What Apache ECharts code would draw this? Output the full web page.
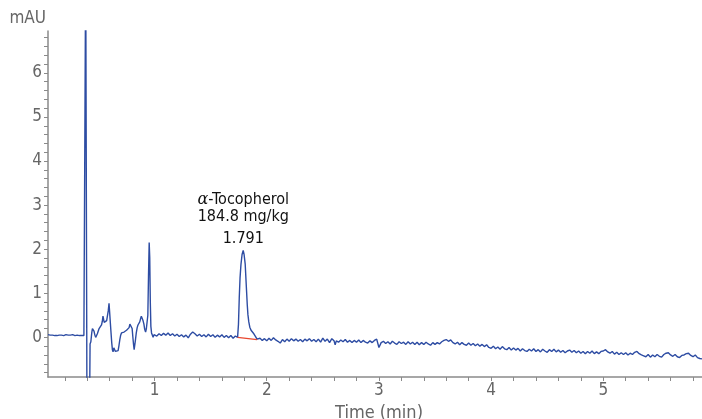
<!DOCTYPE html>
<html>
<head>
<meta charset="utf-8">
<script src="https://cdn.jsdelivr.net/npm/echarts@6/dist/echarts.min.js"></script>
<style>
  html, body { margin: 0; padding: 0; background: #fff; }
  #container1 { width: 702px; height: 419px; }
</style>
</head>
<body>
<div id="container1"></div>
<script>
// 刻度
var xLabels = [1, 2, 3, 4, 5];
var yLabels = [0, 1, 2, 3, 4, 5, 6];

// 溶剂峰前基线 [时间 min, mAU]
var frontBaseline = [
  [0.05, 0.06], [0.06, 0.05], [0.07, 0.05], [0.08, 0.03], [0.09, 0.05], [0.10, 0.03],
  [0.11, 0.04], [0.12, 0.02], [0.13, 0.04], [0.14, 0.02], [0.15, 0.05], [0.16, 0.03],
  [0.17, 0.05], [0.18, 0.02], [0.19, 0.04], [0.20, 0.03], [0.21, 0.06], [0.22, 0.03],
  [0.23, 0.05], [0.24, 0.02], [0.25, 0.05], [0.26, 0.03], [0.27, 0.06], [0.28, 0.03],
  [0.29, 0.04], [0.30, 0.03], [0.31, 0.05], [0.32, 0.02], [0.33, 0.04], [0.34, 0.03],
  [0.35, 0.04], [0.36, 0.03], [0.37, 0.04], [0.38, 0.03]
];

// 溶剂峰和前面的小峰
var earlyPeaks = [
  [0.384, 0.08], [0.386, 8.5], [0.392, 8.5], [0.395, 0.5], [0.397, -1.5], [0.421, -1.5],
  [0.425, -0.15], [0.432, -0.1], [0.440, 0.10], [0.446, 0.20], [0.452, 0.18], [0.460, 0.14],
  [0.468, 0.05], [0.475, 0.0], [0.482, 0.04], [0.490, 0.08], [0.497, 0.12], [0.504, 0.19],
  [0.512, 0.20], [0.520, 0.23], [0.527, 0.28], [0.534, 0.36], [0.540, 0.48], [0.545, 0.47],
  [0.551, 0.34], [0.557, 0.30], [0.565, 0.33], [0.573, 0.38], [0.580, 0.42], [0.587, 0.60],
  [0.594, 0.77], [0.600, 0.55], [0.606, 0.32], [0.612, 0.10], [0.618, -0.12], [0.624, -0.28],
  [0.630, -0.33], [0.637, -0.24], [0.644, -0.22], [0.651, -0.32], [0.659, -0.36], [0.667, -0.35],
  [0.675, -0.30], [0.683, -0.18], [0.690, -0.06], [0.697, 0.04], [0.705, 0.10], [0.712, 0.12],
  [0.720, 0.11], [0.728, 0.12], [0.735, 0.14], [0.742, 0.13], [0.750, 0.16], [0.758, 0.15],
  [0.766, 0.17], [0.773, 0.22], [0.780, 0.30], [0.786, 0.33], [0.793, 0.26], [0.800, 0.20],
  [0.806, 0.02], [0.812, -0.15], [0.818, -0.28], [0.824, -0.30], [0.830, -0.05], [0.837, 0.10],
  [0.845, 0.22], [0.852, 0.28], [0.860, 0.30], [0.868, 0.35], [0.875, 0.42], [0.882, 0.48],
  [0.890, 0.45], [0.897, 0.38], [0.905, 0.30], [0.912, 0.18], [0.920, 0.12], [0.927, 0.20],
  [0.934, 0.24], [0.940, 0.50], [0.946, 1.40], [0.952, 2.15], [0.957, 1.80], [0.962, 0.80],
  [0.967, 0.25], [0.973, 0.10], [0.980, 0.08], [0.987, 0.00], [0.995, 0.06]
];

var baseline1 = [
  [1.00, 0.07], [1.02, 0.03], [1.04, 0.08], [1.06, 0.04], [1.08, 0.09], [1.10, 0.05],
  [1.12, 0.10], [1.14, 0.04], [1.16, 0.08], [1.18, 0.03], [1.20, 0.07], [1.22, 0.02],
  [1.24, 0.06], [1.26, 0.01], [1.28, 0.05], [1.30, -0.01], [1.32, 0.07], [1.34, 0.12],
  [1.36, 0.08], [1.38, 0.03], [1.40, 0.07], [1.42, 0.02], [1.44, 0.06], [1.46, 0.01],
  [1.48, 0.07], [1.50, 0.02], [1.52, 0.06], [1.54, 0.00], [1.56, 0.05], [1.58, 0.01],
  [1.60, 0.06], [1.62, 0.00], [1.64, 0.04], [1.66, -0.01], [1.68, 0.04], [1.70, -0.02],
  [1.72, 0.03], [1.74, 0.00]
];

// 生育酚峰 1.791 min
var tocopherolPeak = [
  [1.742, 0.02], [1.748, 0.30], [1.755, 0.90], [1.762, 1.35], [1.770, 1.65], [1.780, 1.88],
  [1.790, 1.97], [1.798, 1.88], [1.808, 1.66], [1.814, 1.35], [1.820, 1.05], [1.826, 0.75],
  [1.832, 0.52], [1.840, 0.35], [1.849, 0.23], [1.860, 0.16], [1.870, 0.12], [1.885, 0.08],
  [1.900, 0.04], [1.914, -0.04]
];

var tail2 = [
  [1.92, -0.05], [1.94, -0.02], [1.96, -0.07], [1.98, -0.03], [2.00, -0.08], [2.02, -0.02],
  [2.04, -0.07], [2.06, -0.01], [2.08, -0.06], [2.10, -0.09], [2.12, -0.13], [2.14, -0.05],
  [2.16, -0.10], [2.18, -0.04], [2.20, -0.09], [2.22, -0.03], [2.24, -0.08], [2.26, -0.04],
  [2.28, -0.09], [2.30, -0.05], [2.32, -0.10], [2.34, -0.04], [2.36, -0.08], [2.38, -0.03],
  [2.40, -0.09], [2.42, -0.05], [2.44, -0.10], [2.46, -0.04], [2.48, -0.11], [2.50, -0.02],
  [2.52, -0.09], [2.54, -0.04], [2.56, -0.12], [2.58, -0.03], [2.60, -0.08], [2.61, -0.17],
  [2.62, -0.08], [2.64, -0.11], [2.66, -0.06], [2.68, -0.10], [2.70, -0.05], [2.72, -0.11],
  [2.74, -0.07], [2.76, -0.12], [2.78, -0.07], [2.80, -0.11], [2.82, -0.06], [2.84, -0.12],
  [2.86, -0.07], [2.88, -0.11], [2.90, -0.13], [2.92, -0.08], [2.94, -0.12], [2.96, -0.07],
  [2.98, -0.04]
];

var tail3 = [
  [3.00, -0.23], [3.02, -0.12], [3.04, -0.09], [3.06, -0.14], [3.08, -0.10], [3.10, -0.15],
  [3.12, -0.09], [3.14, -0.13], [3.16, -0.16], [3.18, -0.10], [3.20, -0.14], [3.22, -0.11],
  [3.24, -0.16], [3.26, -0.10], [3.28, -0.15], [3.30, -0.11], [3.32, -0.16], [3.34, -0.11],
  [3.36, -0.17], [3.38, -0.12], [3.40, -0.16], [3.42, -0.11], [3.44, -0.15], [3.46, -0.18],
  [3.48, -0.12], [3.50, -0.16], [3.52, -0.12], [3.54, -0.15], [3.56, -0.10], [3.58, -0.07],
  [3.60, -0.05], [3.62, -0.09], [3.64, -0.06], [3.66, -0.12], [3.68, -0.15], [3.70, -0.11],
  [3.72, -0.17], [3.74, -0.12], [3.76, -0.16], [3.78, -0.18], [3.80, -0.13], [3.82, -0.18],
  [3.84, -0.14], [3.86, -0.19], [3.88, -0.15], [3.90, -0.20], [3.92, -0.16], [3.94, -0.21],
  [3.96, -0.17], [3.98, -0.23]
];

var tail4 = [
  [4.00, -0.25], [4.02, -0.20], [4.04, -0.26], [4.06, -0.22], [4.08, -0.27], [4.10, -0.21],
  [4.12, -0.26], [4.14, -0.28], [4.16, -0.23], [4.18, -0.29], [4.20, -0.24], [4.22, -0.29],
  [4.24, -0.25], [4.26, -0.31], [4.28, -0.26], [4.30, -0.30], [4.32, -0.32], [4.34, -0.27],
  [4.36, -0.31], [4.38, -0.26], [4.40, -0.32], [4.42, -0.28], [4.44, -0.33], [4.46, -0.27],
  [4.48, -0.31], [4.50, -0.34], [4.52, -0.28], [4.54, -0.32], [4.56, -0.27], [4.58, -0.33],
  [4.60, -0.29], [4.62, -0.34], [4.64, -0.30], [4.66, -0.35], [4.68, -0.31], [4.70, -0.29],
  [4.72, -0.34], [4.74, -0.30], [4.76, -0.35], [4.78, -0.31], [4.80, -0.36], [4.82, -0.32],
  [4.84, -0.37], [4.86, -0.32], [4.88, -0.36], [4.90, -0.31], [4.92, -0.37], [4.94, -0.33],
  [4.96, -0.37], [4.98, -0.32]
];

var tail5 = [
  [5.00, -0.31], [5.02, -0.28], [5.04, -0.33], [5.06, -0.36], [5.08, -0.32], [5.10, -0.38],
  [5.12, -0.34], [5.14, -0.39], [5.16, -0.35], [5.18, -0.39], [5.20, -0.35], [5.22, -0.40],
  [5.24, -0.36], [5.26, -0.39], [5.28, -0.34], [5.30, -0.32], [5.32, -0.37], [5.34, -0.40],
  [5.36, -0.42], [5.38, -0.44], [5.40, -0.39], [5.42, -0.45], [5.44, -0.40], [5.46, -0.44],
  [5.48, -0.39], [5.50, -0.43], [5.52, -0.45], [5.54, -0.39], [5.56, -0.36], [5.58, -0.35],
  [5.60, -0.40], [5.62, -0.43], [5.64, -0.39], [5.66, -0.44], [5.68, -0.46], [5.70, -0.41],
  [5.72, -0.40], [5.74, -0.37], [5.76, -0.36], [5.78, -0.41], [5.80, -0.44], [5.82, -0.40],
  [5.84, -0.46], [5.86, -0.48], [5.88, -0.49]
];

// 积分基线（红线）
var integrationBaseline = [[1.74, 0.0], [1.914, -0.05]];

// 峰标注
var peakApex = [1.791, 1.97];
var peakName = "α";
var peakAmount = "184.8 mg/kg";
var peakTime = "1.791";

var signal = [].concat(frontBaseline, earlyPeaks, baseline1, tocopherolPeak, tail2, tail3, tail4, tail5);

// 小刻度 0.2
var xTicks = [];
for (var i = 1; i <= 29; i++) xTicks.push(+(i * 0.2).toFixed(1));
var yTicks = [];
for (var j = -4; j <= 34; j++) yTicks.push(+(j * 0.2).toFixed(1));

var font = "'DejaVu Sans Condensed', 'Liberation Sans Narrow', 'Roboto', sans-serif";
var axisGray = "#8a8a8a";
var labelGray = "#666666";

var myChart = echarts.init(document.getElementById("container1"));

var option = {
  animation: false,
  grid: { left: 48, right: 0, top: 31, bottom: 42, outerBoundsMode: "none", containLabel: false },
  xAxis: {
    type: "value",
    min: 0.05,
    max: 5.88,
    name: "Time (min)",
    nameLocation: "middle",
    nameGap: 24,
    nameTextStyle: { color: labelGray, fontFamily: font, fontSize: 18, padding: [0, 0, 0, 8] },
    axisLine: { onZero: false, lineStyle: { color: axisGray, width: 1.5 } },
    axisTick: { customValues: xTicks, length: 4, lineStyle: { color: axisGray } },
    axisLabel: { customValues: xLabels, color: labelGray, fontFamily: font, fontSize: 17, margin: 5 },
    splitLine: { show: false }
  },
  yAxis: {
    type: "value",
    min: -0.9,
    max: 6.95,
    name: "mAU",
    nameLocation: "end",
    nameGap: 4,
    nameTextStyle: { color: labelGray, fontFamily: font, fontSize: 17, align: "right", padding: [0, 2, 0, 0] },
    axisLine: { show: true, onZero: false, lineStyle: { color: axisGray, width: 1.5 } },
    axisTick: { customValues: yTicks, length: 4, lineStyle: { color: axisGray } },
    axisLabel: { customValues: yLabels, color: labelGray, fontFamily: font, fontSize: 17, margin: 6 },
    splitLine: { show: false }
  },
  series: [
    {
      type: "line",
      data: signal,
      showSymbol: false,
      symbol: "none",
      clip: true,
      lineStyle: { color: "#2d4ca3", width: 1.4 },
      markPoint: {
        symbol: "circle",
        symbolSize: 0,
        data: [
          {
            coord: peakApex,
            label: {
              show: true,
              position: "top",
              distance: -2,
              formatter: "{a|" + peakName + "}-Tocopherol\n" + peakAmount + "\n{t|" + peakTime + "}",
              color: "#111",
              fontFamily: font,
              fontSize: 16,
              lineHeight: 17,
              align: "center",
              rich: {
                a: { fontFamily: "'DejaVu Serif', 'Liberation Serif', serif", fontStyle: "italic", fontSize: 16, color: "#111" },
                t: { lineHeight: 27, fontSize: 16, color: "#111", fontFamily: font }
              }
            }
          }
        ]
      }
    },
    {
      // 积分基线
      type: "line",
      data: integrationBaseline,
      showSymbol: false,
      symbol: "none",
      lineStyle: { color: "#e8472f", width: 1.2 }
    }
  ]
};

myChart.setOption(option);
</script>
</body>
</html>
